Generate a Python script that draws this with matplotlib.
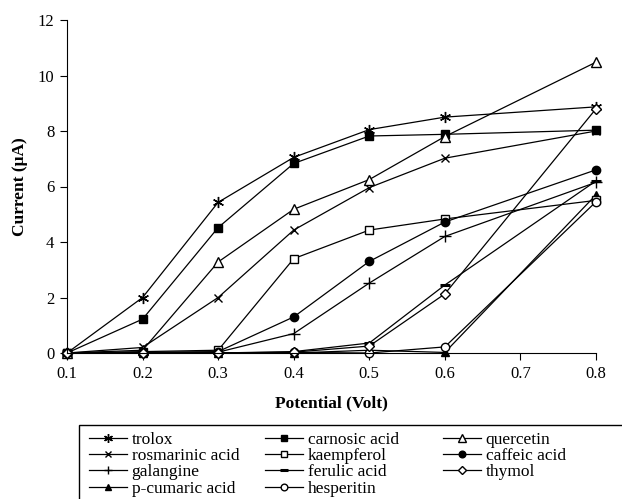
import numpy as np
import matplotlib
matplotlib.use("Agg")
import matplotlib.pyplot as plt
from matplotlib.patches import Rectangle

plt.rcParams['font.family'] = ['Liberation Serif', 'DejaVu Serif']

potential = [0.1, 0.2, 0.3, 0.4, 0.5, 0.6, 0.8]

trolox = [0.0, 2.0, 5.43, 7.05, 8.05, 8.5, 8.87]
carnosic = [0.0, 1.22, 4.52, 6.83, 7.82, 7.88, 8.03]
quercetin = [0.0, 0.1, 3.28, 5.18, 6.25, 7.8, 10.48]
rosmarinic = [0.0, 0.2, 2.0, 4.43, 5.96, 7.02, 8.0]
kaempferol = [0.0, 0.05, 0.1, 3.4, 4.43, 4.83, 5.5]
caffeic = [0.0, 0.02, 0.05, 1.3, 3.3, 4.72, 6.6]
galangine = [0.0, 0.02, 0.03, 0.7, 2.52, 4.2, 6.15]
ferulic = [0.0, 0.0, 0.0, 0.05, 0.36, 2.45, 6.2]
thymol = [0.0, 0.0, 0.0, 0.03, 0.25, 2.13, 8.8]
pcumaric = [0.0, 0.0, 0.0, 0.0, 0.1, 0.02, 5.7]
hesperitin = [0.0, 0.0, 0.0, 0.02, 0.0, 0.22, 5.45]

# (label, values, marker, facecolor, size)
series = [
    ("trolox", trolox, (6, 2, 0), "k", 8),
    ("rosmarinic acid", rosmarinic, "x", "k", 6),
    ("galangine", galangine, "+", "k", 8),
    ("p-cumaric acid", pcumaric, "^", "k", 6),
    ("carnosic acid", carnosic, "s", "k", 6),
    ("kaempferol", kaempferol, "s", "w", 6),
    ("ferulic acid", ferulic, "_", "k", 7),
    ("hesperitin", hesperitin, "o", "w", 6),
    ("quercetin", quercetin, "^", "w", 7),
    ("caffeic acid", caffeic, "o", "k", 6),
    ("thymol", thymol, "D", "w", 5),
]

fig = plt.figure(figsize=(6.22, 4.99), dpi=100)
ax = fig.add_axes([67/622, 1-353/499, (596-67)/622, (353-20)/499])

handles = []
for lab, vals, mk, fc, ms in series:
    h, = ax.plot(potential, vals, color="k", lw=0.9, marker=mk, mfc=fc, mec="k",
                 ms=ms, mew=1.0 if mk not in ("_",) else 2.2, label=lab, clip_on=False)
    handles.append(h)

ax.set_xlim(0.1, 0.8)
ax.set_ylim(0, 12)
ax.set_xticks(np.arange(0.1, 0.81, 0.1))
ax.set_xticklabels(["0.1", "0.2", "0.3", "0.4", "0.5", "0.6", "0.7", "0.8"])
ax.set_yticks(range(0, 13, 2))
ax.spines["top"].set_visible(False)
ax.spines["right"].set_visible(False)
ax.tick_params(direction="out", length=5, width=0.8, labelsize=12, pad=4)
ax.set_xlabel("Potential (Volt)", fontsize=12.5, fontweight="bold", labelpad=10)
ax.set_ylabel("Current (μA)", fontsize=12.5, fontweight="bold", labelpad=7)

# legend: three columns, frame running off the figure
col_x = [89/622, 265/622, 443/622]
groups = [handles[0:4], handles[4:8], handles[8:11]]
for cx, grp in zip(col_x, groups):
    lg = fig.legend(handles=grp, loc="upper left", bbox_to_anchor=(cx, 1-432/499),
                    frameon=False, fontsize=12.5, handlelength=2.2, handletextpad=0.25,
                    labelspacing=0.0, borderpad=0, borderaxespad=0, markerscale=0.8)
fig.patches.append(Rectangle((79/622, -0.2), 0.95, 0.2 + 1-425/499, transform=fig.transFigure,
                             fill=False, ec="k", lw=1.0))

fig.savefig("out.png", dpi=100)
